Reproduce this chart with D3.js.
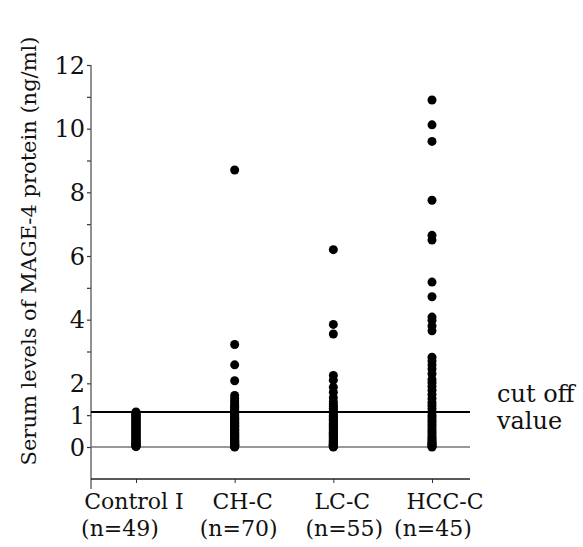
<!DOCTYPE html>
<html>
<head>
<script src="https://d3js.org/d3.v7.min.js"></script>
<style>
body { margin: 0; background: #fff; }
text { font-family: "DejaVu Serif", serif; fill: #111; }
</style>
</head>
<body>
<svg width="583" height="547"></svg>
<script>

var groups = ["Control I", "CH-C", "LC-C", "HCC-C"];
var groupN = ["(n=49)", "(n=70)", "(n=55)", "(n=45)"];

var control = [1.10,1.08,1.06,1.03,1.00,0.98,0.96,0.93,0.91,0.88,0.86,0.83,0.81,0.79,0.76,0.74,0.71,0.69,0.66,0.64,0.62,0.59,0.57,0.54,0.52,0.50,0.47,0.45,0.42,0.40,0.37,0.35,0.33,0.30,0.28,0.25,0.23,0.21,0.18,0.16,0.14,0.12,0.10,0.08,0.06,0.05,0.03,0.02,0.01];
var chc = [8.70,3.22,2.58,2.08,1.62,1.52,1.45,1.38,1.31,1.25,1.20,1.16,1.12,1.08,1.05,1.02,0.99,0.96,0.93,0.90,0.88,0.85,0.82,0.80,0.77,0.75,0.72,0.70,0.68,0.65,0.63,0.61,0.58,0.56,0.54,0.52,0.50,0.48,0.46,0.44,0.42,0.40,0.38,0.36,0.34,0.32,0.30,0.28,0.27,0.25,0.23,0.21,0.20,0.18,0.16,0.15,0.13,0.12,0.10,0.09,0.08,0.07,0.06,0.05,0.04,0.03,0.03,0.02,0.01,0.00];
var lcc = [6.20,3.85,3.55,2.25,2.10,1.88,1.72,1.55,1.42,1.35,1.28,1.22,1.16,1.10,1.05,1.00,0.95,0.91,0.87,0.83,0.79,0.75,0.71,0.68,0.64,0.61,0.58,0.55,0.52,0.49,0.46,0.43,0.40,0.37,0.35,0.32,0.30,0.27,0.25,0.22,0.20,0.18,0.16,0.14,0.12,0.10,0.09,0.07,0.06,0.05,0.04,0.03,0.02,0.01,0.00];
var hccc = [10.90,10.12,9.60,7.75,6.65,6.50,5.18,4.72,4.08,3.98,3.80,3.65,2.82,2.70,2.58,2.45,2.30,2.12,2.02,1.90,1.78,1.65,1.52,1.40,1.30,1.20,1.10,1.00,0.92,0.84,0.76,0.68,0.60,0.52,0.45,0.38,0.31,0.25,0.20,0.15,0.11,0.08,0.05,0.02,0.00];

var yTicks = [0, 1, 2, 3, 4, 5, 6, 7, 8, 9, 10, 11, 12];
var yLabels = [0, 1, 2, 4, 6, 8, 10, 12];
var cutoff = 1.1;

// label nudges (px) so the two label rows sit like the original
var nameShift = [-2, 8, 9, 13];
var nShift = [-16, 4, 11, 1];

var svg = d3.select("svg");

var x = d3.scalePoint()
    .domain(groups)
    .range([136, 432]);

var y = d3.scaleLinear()
    .domain([0, 12])
    .range([447, 65]);

var axisX = 91, rightEnd = 470, bottomY = 479;

// y axis
var yAxis = svg.append("g")
    .attr("transform", "translate(" + axisX + ",0)")
    .call(d3.axisLeft(y).tickValues(yTicks).tickSize(4).tickFormat(""));
yAxis.select(".domain").remove();
yAxis.selectAll("line").attr("stroke", "#333").attr("stroke-width", 1.2);

svg.append("line")
    .attr("x1", axisX).attr("x2", axisX)
    .attr("y1", y(12)).attr("y2", 489)
    .attr("stroke", "#555").attr("stroke-width", 1.3);

svg.selectAll(".ylab")
    .data(yLabels)
  .enter().append("text")
    .attr("class", "ylab")
    .attr("x", axisX - 6)
    .attr("y", function(d) { return y(d); })
    .attr("dy", "0.36em")
    .attr("text-anchor", "end")
    .style("font-size", "24px")
    .text(function(d) { return d; });

svg.append("text")
    .attr("transform", "translate(36," + 251 + ") rotate(-90)")
    .attr("text-anchor", "middle")
    .style("font-size", "21px")
    .text("Serum levels of  MAGE-4 protein (ng/ml)");

// bottom axis
var xAxis = svg.append("g")
    .attr("transform", "translate(0," + bottomY + ")")
    .call(d3.axisBottom(x).tickSize(4).tickFormat(""));
xAxis.select(".domain").remove();
xAxis.selectAll("line").attr("stroke", "#333");

svg.append("line")
    .attr("x1", axisX).attr("x2", rightEnd)
    .attr("y1", bottomY).attr("y2", bottomY)
    .attr("stroke", "#222").attr("stroke-width", 1.3);

svg.selectAll(".glab")
    .data(groups)
  .enter().append("text")
    .attr("class", "glab")
    .attr("x", function(d, i) { return x(d) + nameShift[i]; })
    .attr("y", 509)
    .attr("text-anchor", "middle")
    .style("font-size", "22px")
    .text(function(d) { return d; });

svg.selectAll(".nlab")
    .data(groupN)
  .enter().append("text")
    .attr("class", "nlab")
    .attr("x", function(d, i) { return x(groups[i]) + nShift[i]; })
    .attr("y", 536)
    .attr("text-anchor", "middle")
    .style("font-size", "22px")
    .text(function(d) { return d; });

// zero line and cut off line
svg.append("line")
    .attr("x1", axisX).attr("x2", rightEnd)
    .attr("y1", y(0)).attr("y2", y(0))
    .attr("stroke", "#777").attr("stroke-width", 1.3);

svg.append("line")
    .attr("x1", axisX).attr("x2", rightEnd)
    .attr("y1", y(cutoff)).attr("y2", y(cutoff))
    .attr("stroke", "#000").attr("stroke-width", 2);

svg.append("text")
    .attr("x", 497).attr("y", 402)
    .style("font-size", "24px")
    .text("cut off");
svg.append("text")
    .attr("x", 497).attr("y", 429)
    .style("font-size", "24px")
    .text("value");

// dots
var series = [control, chc, lcc, hccc];
series.forEach(function(vals, i) {
  svg.append("g").selectAll("circle")
      .data(vals)
    .enter().append("circle")
      .attr("cx", x(groups[i]))
      .attr("cy", function(d) { return y(d); })
      .attr("r", 4.5)
      .attr("fill", "#000");
});

</script>
</body>
</html>
